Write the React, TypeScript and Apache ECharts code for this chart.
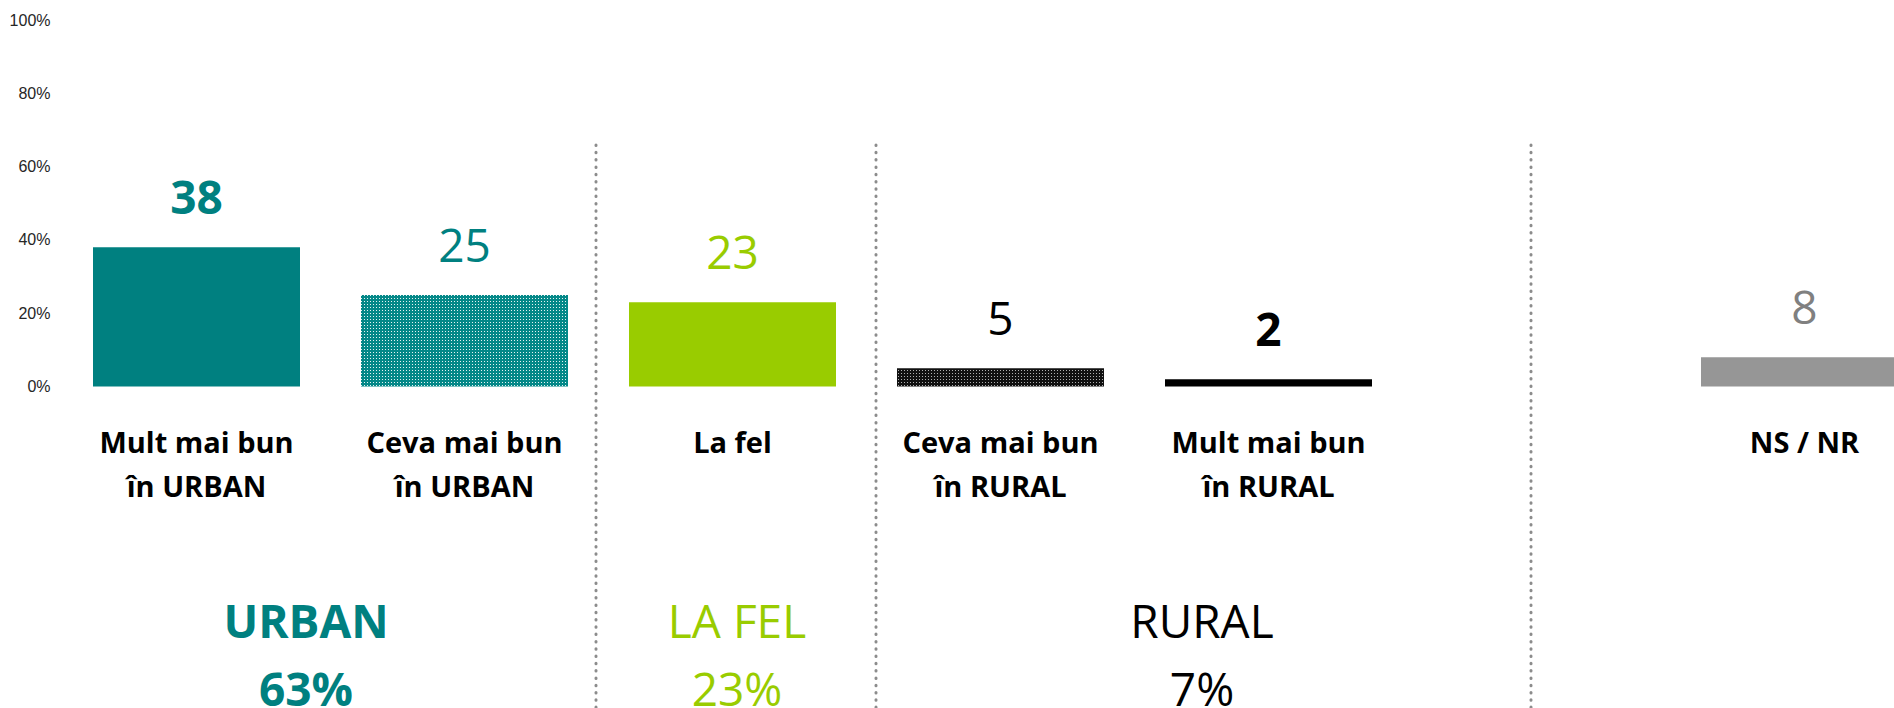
import React, { useEffect, useRef } from "react";
import * as echarts from "echarts";

const categories = [
  "Mult mai bun\nîn URBAN",
  "Ceva mai bun\nîn URBAN",
  "La fel",
  "Ceva mai bun\nîn RURAL",
  "Mult mai bun\nîn RURAL",
  "",
  "NS / NR",
];
const values: (number | null)[] = [38, 25, 23, 5, 2, null, 8];
const groupNames = ["URBAN", "LA FEL", "RURAL"];
const groupTotals = ["63%", "23%", "7%"];

const TEAL = "#008080";
const LIME = "#99CC00";
const GRAY = "#969696";

function makeTile(bg: string, dot: string): HTMLCanvasElement {
  const c = document.createElement("canvas");
  c.width = 3;
  c.height = 3;
  const ctx = c.getContext("2d")!;
  ctx.fillStyle = bg;
  ctx.fillRect(0, 0, 3, 3);
  ctx.fillStyle = dot;
  ctx.fillRect(1, 1, 1, 1);
  return c;
}

export default function App() {
  const ref = useRef<HTMLDivElement>(null);
  useEffect(() => {
    document.body.style.margin = "0";
    document.body.style.overflow = "hidden";
    const chart = echarts.init(ref.current!, null, { renderer: "svg" });
    const tealPattern = {
      image: makeTile("#048888", "#e6f3f3"),
      repeat: "repeat",
      imageWidth: 3,
      imageHeight: 3,
    };
    const blackPattern = {
      image: makeTile("#111111", "#b0b0b0"),
      repeat: "repeat",
      imageWidth: 3,
      imageHeight: 3,
    };
    const barColors: any[] = [TEAL, tealPattern, LIME, blackPattern, "#000000", "#000", GRAY];
    const labelColors = [TEAL, TEAL, LIME, "#000000", "#000000", "#000", "#808080"];
    const labelWeights = ["bold", "normal", "normal", "normal", "bold", "normal", "normal"];
    const groupColors = [TEAL, LIME, "#000000"];
    const groupWeights = ["bold", "normal", "normal"];
    const groupX = [306, 737, 1202];
    const sepX = [596, 876, 1531];

    const data = values.map((v, i) =>
      v == null
        ? "-"
        : {
            value: v,
            itemStyle: { color: barColors[i] },
            label: { color: labelColors[i], fontWeight: labelWeights[i] },
          }
    );

    const graphics: any[] = [];
    sepX.forEach((x) => {
      graphics.push({
        type: "line",
        shape: { x1: x, y1: 145, x2: x, y2: 712 },
        style: { stroke: "#8c8c8c", lineWidth: 3, lineDash: [0.5, 6.8], lineCap: "round" },
        silent: true,
      });
    });
    groupNames.forEach((g, i) => {
      graphics.push({
        type: "text",
        x: groupX[i],
        y: 620,
        style: {
          text: g,
          fill: groupColors[i],
          font: `${groupWeights[i]} 46px "Open Sans"`,
          textAlign: "center",
          textVerticalAlign: "middle",
        },
      });
      graphics.push({
        type: "text",
        x: groupX[i],
        y: 688,
        style: {
          text: groupTotals[i],
          fill: groupColors[i],
          font: `${groupWeights[i]} 46px "Open Sans"`,
          textAlign: "center",
          textVerticalAlign: "middle",
        },
      });
    });

    chart.setOption({
      animation: false,
      grid: { left: 62.5, top: 20, width: 1876, height: 366.5, containLabel: false },
      xAxis: {
        type: "category",
        data: categories,
        axisLine: { show: false },
        axisTick: { show: false },
        axisLabel: {
          interval: 0,
          margin: 33,
          color: "#000000",
          fontFamily: "Open Sans",
          fontWeight: "bold",
          fontSize: 29,
          lineHeight: 44,
        },
      },
      yAxis: {
        type: "value",
        min: 0,
        max: 100,
        interval: 20,
        axisLine: { show: false },
        axisTick: { show: false },
        splitLine: { show: false },
        axisLabel: {
          formatter: "{value}%",
          color: "#262626",
          fontFamily: "Liberation Sans",
          fontSize: 16,
          margin: 12,
        },
      },
      series: [
        {
          type: "bar",
          data,
          barWidth: 207,
          label: {
            show: true,
            position: "top",
            distance: 28,
            fontFamily: "Open Sans",
            fontSize: 46,
            formatter: "{c}",
          },
        },
      ],
      graphic: graphics,
    });
    return () => chart.dispose();
  }, []);
  return (
    <div
      ref={ref}
      style={{ position: "absolute", left: 0, top: 0, width: 1950, height: 708 }}
    />
  );
}
